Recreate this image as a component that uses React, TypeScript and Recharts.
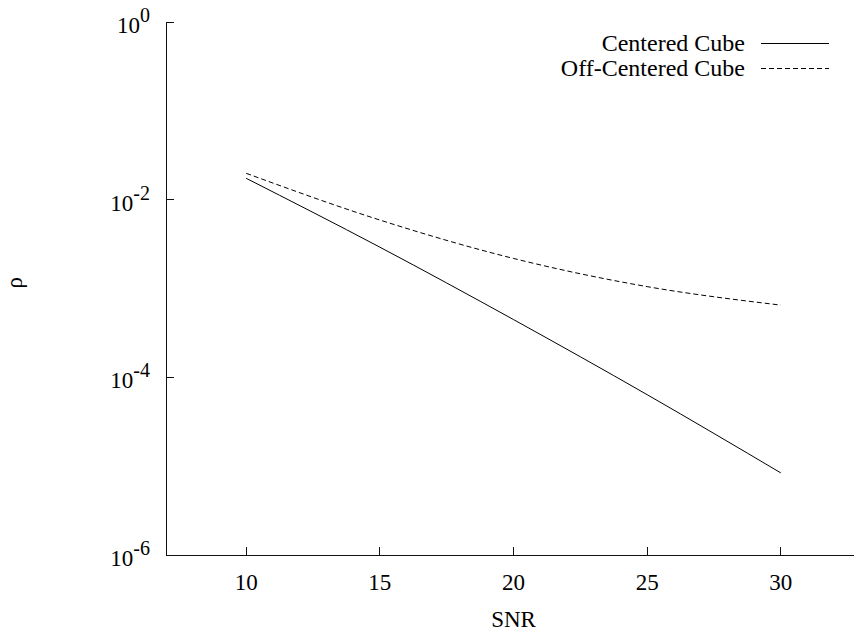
import { LineChart, Line, XAxis, YAxis, Legend } from "recharts";

const snr = [10, 15, 20, 25, 30];
const centeredCube = [0.0174, 0.00292, 0.000447, 0.0000638, 0.0000084];
const offCenteredCube = [0.0198, 0.0059, 0.00218, 0.00105, 0.00065];
const xTicks = [10, 15, 20, 25, 30];
const yTicks = [1e-6, 1e-4, 1e-2, 1];
const seriesNames: Record<string, string> = {
  centered: "Centered Cube",
  offCentered: "Off-Centered Cube",
};
const seriesDash: Record<string, string | undefined> = {
  centered: undefined,
  offCentered: "5 3",
};

const data = snr.map((s, i) => ({
  snr: s,
  centered: centeredCube[i],
  offCentered: offCenteredCube[i],
}));

const FONT = "'Liberation Serif', 'Times New Roman', serif";
const INK = "#000";
const FRAME = "#111";

function BottomTick(props: any) {
  const { x, y, payload } = props;
  return (
    <g>
      <line x1={x} y1={y} x2={x} y2={y - 8} stroke={FRAME} shapeRendering="crispEdges" />
      <text x={x} y={y + 35} textAnchor="middle" fontFamily={FONT} fontSize={23} fill={INK}>
        {payload.value}
      </text>
    </g>
  );
}

function TopTick(props: any) {
  const { x, y } = props;
  return <line x1={x} y1={y} x2={x} y2={y + 8} stroke={FRAME} shapeRendering="crispEdges" />;
}

function LeftTick(props: any) {
  const { x, y, payload } = props;
  const exp = Math.round(Math.log10(payload.value));
  return (
    <g>
      <line x1={x} y1={y} x2={x + 8} y2={y} stroke={FRAME} shapeRendering="crispEdges" />
      <text x={x - 16} y={y + 11} textAnchor="end" fontFamily={FONT} fontSize={23} fill={INK}>
        <tspan>10</tspan>
        <tspan dy={-11} fontSize={20}>{exp}</tspan>
      </text>
    </g>
  );
}

function RightTick(props: any) {
  const { x, y } = props;
  return <line x1={x} y1={y} x2={x - 8} y2={y} stroke={FRAME} shapeRendering="crispEdges" />;
}

function LegendBox(props: any) {
  const items = props.payload || [];
  return (
    <svg width={290} height={60} style={{ display: "block" }}>
      {items.map((it: any, i: number) => {
        const cy = 15 + i * 25;
        return (
          <g key={it.dataKey}>
            <text x={185} y={cy + 8} textAnchor="end" fontFamily={FONT} fontSize={24} fill={INK}>
              {seriesNames[it.dataKey]}
            </text>
            <line x1={201} y1={cy} x2={269} y2={cy} stroke={INK} strokeDasharray={seriesDash[it.dataKey]} shapeRendering="crispEdges" />
          </g>
        );
      })}
    </svg>
  );
}

const frameLine = { stroke: FRAME, strokeWidth: 1, shapeRendering: "crispEdges" };

export default function App() {
  return (
    <div style={{ position: "absolute", left: 0, top: 0, width: 854, height: 637, overflow: "hidden", background: "#fff", fontFamily: FONT }}>
      <LineChart width={870} height={637} data={data} margin={{ top: 22, right: 9, bottom: 0, left: 0 }} style={{ fontFamily: FONT }}>
        <XAxis
          xAxisId="bottom"
          dataKey="snr"
          type="number"
          domain={[7, 33]}
          ticks={xTicks}
          height={82}
          tickSize={0}
          tickMargin={0}
          tickLine={false}
          axisLine={frameLine}
          tick={<BottomTick />}
          label={{ value: "SNR", position: "insideBottom", offset: 10, fontFamily: FONT, fontSize: 23, fill: INK }}
        />
        <XAxis
          xAxisId="top"
          orientation="top"
          dataKey="snr"
          type="number"
          domain={[7, 33]}
          ticks={xTicks}
          height={0}
          tickSize={0}
          tickMargin={0}
          tickLine={false}
          axisLine={frameLine}
          tick={<TopTick />}
        />
        <YAxis
          yAxisId="left"
          scale="log"
          type="number"
          domain={[1e-6, 1]}
          ticks={yTicks}
          allowDataOverflow
          width={166}
          tickSize={0}
          tickMargin={0}
          tickLine={false}
          axisLine={frameLine}
          tick={<LeftTick />}
          label={{ value: "ρ", angle: -90, position: "insideLeft", offset: 14, fontFamily: FONT, fontSize: 23, fill: INK }}
        />
        <YAxis
          yAxisId="right"
          orientation="right"
          scale="log"
          type="number"
          domain={[1e-6, 1]}
          ticks={yTicks}
          allowDataOverflow
          width={0}
          tickSize={0}
          tickMargin={0}
          tickLine={false}
          axisLine={frameLine}
          tick={<RightTick />}
        />
        <Legend
          layout="vertical"
          align="center"
          verticalAlign="middle"
          wrapperStyle={{ position: "absolute", left: 560, top: 28, width: 290, height: 60 }}
          content={<LegendBox />}
        />
        <Line
          xAxisId="bottom"
          yAxisId="left"
          type="monotone"
          dataKey="centered"
          name={seriesNames.centered}
          stroke={INK}
          strokeWidth={1}
          dot={false}
          isAnimationActive={false}
        />
        <Line
          xAxisId="bottom"
          yAxisId="left"
          type="monotone"
          dataKey="offCentered"
          name={seriesNames.offCentered}
          stroke={INK}
          strokeWidth={1}
          strokeDasharray="5 3"
          dot={false}
          isAnimationActive={false}
        />
      </LineChart>
    </div>
  );
}
